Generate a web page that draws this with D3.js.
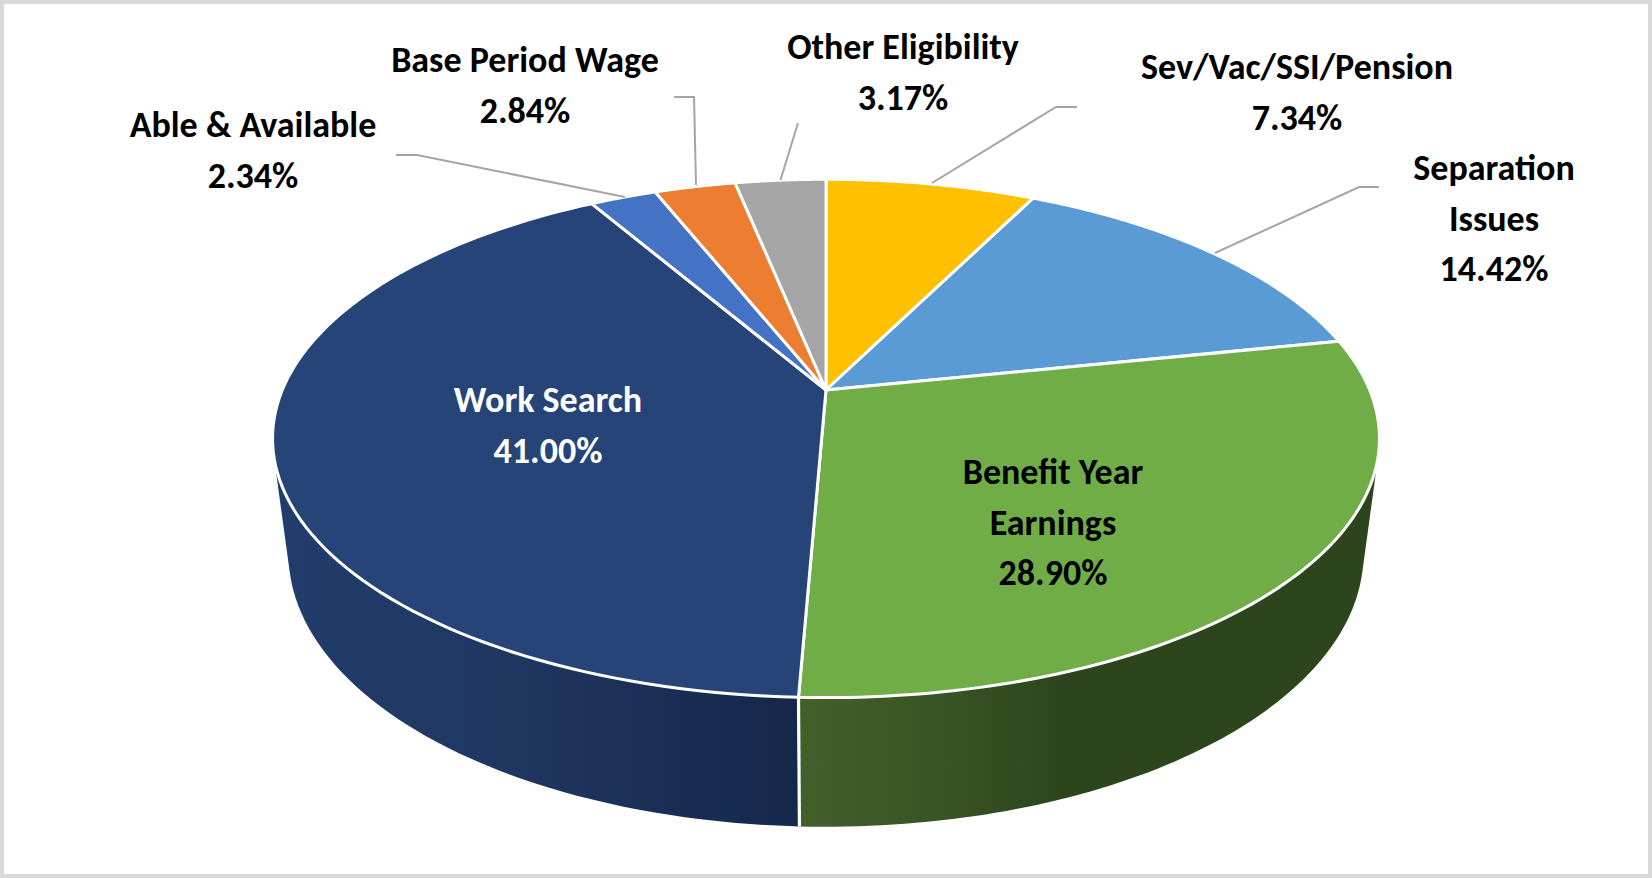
<!DOCTYPE html>
<html><head><meta charset="utf-8">
<script src="https://cdn.jsdelivr.net/npm/d3@7"></script>
<style>html,body{margin:0;padding:0;background:#fff;overflow:hidden}svg{display:block}text{font-family:Carlito,Lato,sans-serif;font-weight:700}</style>
</head><body><svg id="c" width="1652" height="878"></svg>
<script>
const categories = ["Sev/Vac/SSI/Pension","Separation Issues","Benefit Year Earnings","Work Search","Able & Available","Base Period Wage","Other Eligibility"];
const values = [7.34,14.42,28.90,41.00,2.34,2.84,3.17];
const valueLabels = ["7.34%","14.42%","28.90%","41.00%","2.34%","2.84%","3.17%"];
const labelLines = [["Sev/Vac/SSI/Pension"],["Separation","Issues"],["Benefit Year","Earnings"],["Work Search"],["Able & Available"],["Base Period Wage"],["Other Eligibility"]];
const topColors = ["#ffc000","#5b9bd5","#70ad47","#264478","#4472c4","#ed7d31","#a5a5a5"];

// layout, separate from the data
const labelAnchors = [[1297,67],[1494,168],[1053,472],[548,400],[253,125],[525,60],[903,47]];
const lineGap = 50.7, fontSize = 36;
const leaders = [
  [[1077,107],[1056,107],[932,183]],
  [[1379,187],[1359,187],[1215,253]],
  null, null,
  [[396,155],[417,155],[625,197]],
  [[674,97],[694,97],[696,185]],
  [[798,123],[780.5,180]]
];

// perspective projection of the disc: h=0 top face, h=1 bottom rim
const cx=826, cy=390, A=543.7, B=250.1, K=-0.187, M=0.0287, N=117.5;
function project(theta,h){
  const u=Math.sin(theta), v=-Math.cos(theta), w=1+K*v+M*h;
  return [cx+A*u/w, cy+(B*v+N*h)/w];
}
const arcs = d3.pie().sort(null).value(d=>d)(values);
const total = 2*Math.PI;
const samples=(a,b)=>d3.range(0,101).map(i=>a+(b-a)*i/100);
const line=d3.line();
const svg=d3.select("#c");
const defs=svg.append("defs");

function grad(id,x1,x2,stops){
  const g=defs.append("linearGradient").attr("id",id).attr("gradientUnits","userSpaceOnUse")
    .attr("x1",x1).attr("x2",x2).attr("y1",0).attr("y2",0);
  stops.forEach(s=>g.append("stop").attr("offset",s[0]).attr("stop-color",s[1]));
}
grad("wallBlue",280,800,[[0,"#223d6c"],[0.5,"#1e355f"],[1,"#15274a"]]);
grad("wallGreen",800,1060,[[0,"#435f2a"],[0.5,"#3a5525"],[1,"#2d451d"]]);

// walls (front-facing slices only)
const walls=[{i:2,fill:"url(#wallGreen)"},{i:3,fill:"url(#wallBlue)"}];
svg.append("g").selectAll("path").data(walls).join("path")
  .attr("fill",d=>d.fill)
  .attr("d",d=>{
    const s=samples(arcs[d.i].startAngle,arcs[d.i].endAngle);
    const hull=d3.polygonHull(s.map(t=>project(t,0)).concat(s.map(t=>project(t,1))));
    return line(hull)+"Z";
  });
// seam between the two walls
const seam=arcs[3].startAngle;
svg.append("path").attr("d",line([project(seam,0),project(seam,1)]))
  .attr("stroke","#fff").attr("stroke-width",3.2).attr("fill","none");

// top faces
svg.append("g").selectAll("path").data(arcs).join("path")
  .attr("fill",(d,i)=>topColors[i])
  .attr("stroke","#fff").attr("stroke-width",3).attr("stroke-linejoin","round")
  .attr("d",d=>line([[cx,cy]].concat(samples(d.startAngle,d.endAngle).map(t=>project(t,0))))+"Z");

// leader lines
svg.append("g").selectAll("path").data(leaders.filter(Boolean)).join("path")
  .attr("d",d=>line(d)).attr("fill","none").attr("stroke","#a5a5a5").attr("stroke-width",2);

// labels
const lab=svg.append("g").selectAll("text").data(categories).join("text")
  .attr("text-anchor","middle").attr("font-size",fontSize)
  .attr("fill",(d,i)=>i===3?"#fff":"#000");
lab.each(function(d,i){
  const rows=labelLines[i].concat([valueLabels[i]]);
  const [x,y]=labelAnchors[i];
  d3.select(this).selectAll("tspan").data(rows).join("tspan")
    .attr("x",x).attr("y",(r,j)=>y+j*lineGap+12).text(r=>r);
});

// outer frame
svg.append("rect").attr("x",2).attr("y",2).attr("width",1648).attr("height",874)
  .attr("fill","none").attr("stroke","#d9d9d9").attr("stroke-width",4);
</script></body></html>
